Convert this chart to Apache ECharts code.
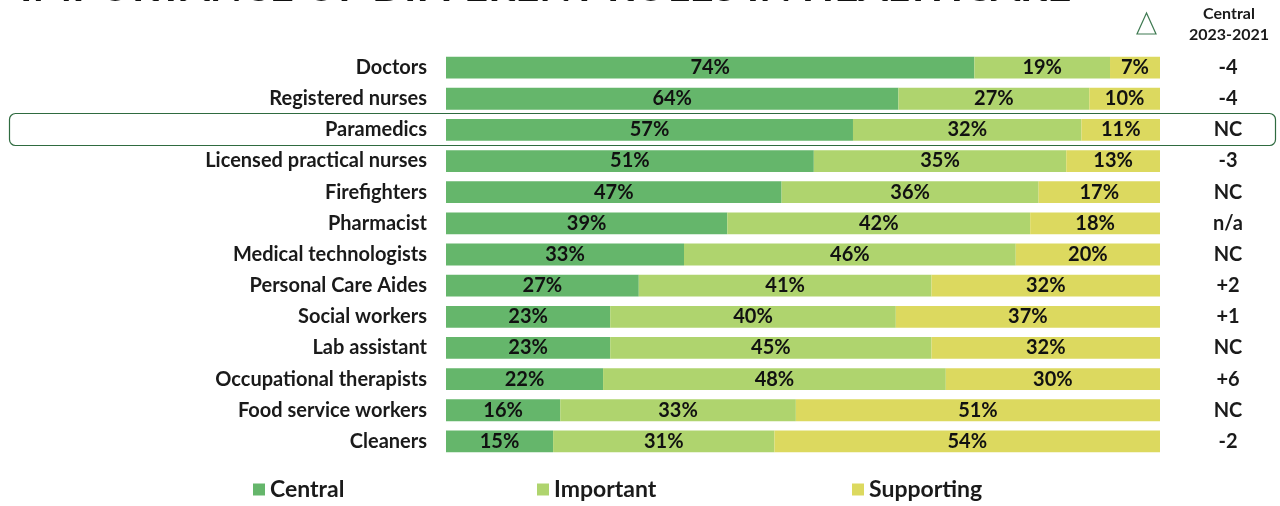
<!DOCTYPE html>
<html>
<head>
<meta charset="utf-8">
<title>Importance of different roles in healthcare</title>
<script src="https://cdn.jsdelivr.net/npm/echarts@6/dist/echarts.min.js"></script>
<style>
  html, body { margin: 0; padding: 0; background: #ffffff; }
  #chart { width: 1280px; height: 506px; }
</style>
</head>
<body>
<div id="chart"></div>
<script>
// roles, top to bottom
const roles = [
  'Doctors', 'Registered nurses', 'Paramedics', 'Licensed practical nurses',
  'Firefighters', 'Pharmacist', 'Medical technologists', 'Personal Care Aides',
  'Social workers', 'Lab assistant', 'Occupational therapists',
  'Food service workers', 'Cleaners'
]
const central = [74, 64, 57, 51, 47, 39, 33, 27, 23, 23, 22, 16, 15]
const important = [19, 27, 32, 35, 36, 42, 46, 41, 40, 45, 48, 33, 31]
const supporting = [7, 10, 11, 13, 17, 18, 20, 32, 37, 32, 30, 51, 54]
// change in "central" 2023 vs 2021
const centralChange = ['-4', '-4', 'NC', '-3', 'NC', 'n/a', 'NC', '+2', '+1', 'NC', '+6', 'NC', '-2']

const FONT = 'Lato, "DejaVu Sans", sans-serif'
const colors = { central: '#65b66b', important: '#afd46e', supporting: '#dcd95f' }

const chart = echarts.init(document.getElementById('chart'))

// bars fill the full row, so share is taken against the row total
const totals = roles.map((r, i) => central[i] + important[i] + supporting[i])
const share = (arr) => arr.map((v, i) => ({ value: v / totals[i] * 100, raw: v }))

const makeSeries = (name, arr, color) => ({
  name: name,
  type: 'bar',
  stack: 'total',
  barCategoryGap: '30%',
  data: share(arr),
  itemStyle: { color: color },
  label: {
    show: true,
    position: 'inside',
    formatter: p => p.data.raw + '%',
    color: '#111111',
    fontFamily: FONT,
    fontWeight: 'bold',
    fontSize: 20
  },
  emphasis: { disabled: true }
})

// one legend per item so each sits where the reference has it
const makeLegend = (name, left) => ({
  bottom: 0,
  left: left,
  itemWidth: 12,
  itemHeight: 12,
  icon: 'rect',
  selectedMode: false,
  textStyle: {
    color: '#1a1a1a',
    fontFamily: FONT,
    fontWeight: 'bold',
    fontSize: 23
  },
  data: [name]
})

chart.setOption({
  animation: false,
  backgroundColor: '#ffffff',
  grid: { left: 446, right: 120, top: 52, height: 405 },
  xAxis: {
    type: 'value',
    min: 0,
    max: 100,
    show: false
  },
  yAxis: [
    {
      type: 'category',
      inverse: true,
      data: roles,
      axisLine: { show: false },
      axisTick: { show: false },
      axisLabel: {
        margin: 19,
        color: '#1a1a1a',
        fontFamily: FONT,
        fontWeight: 'bold',
        fontSize: 20
      }
    },
    {
      type: 'category',
      inverse: true,
      position: 'right',
      data: centralChange,
      axisLine: { show: false },
      axisTick: { show: false },
      axisLabel: {
        margin: 68,
        align: 'center',
        color: '#1a1a1a',
        fontFamily: FONT,
        fontWeight: 'bold',
        fontSize: 20
      }
    }
  ],
  legend: [
    makeLegend('Central', 248),
    makeLegend('Important', 532),
    makeLegend('Supporting', 847)
  ],
  series: [
    makeSeries('Central', central, colors.central),
    makeSeries('Important', important, colors.important),
    makeSeries('Supporting', supporting, colors.supporting)
  ],
  graphic: [
    {
      // title, cut off at the top edge
      type: 'text',
      left: 20,
      top: -34,
      style: {
        text: 'IMPORTANCE OF DIFFERENT ROLES IN HEALTHCARE',
        fill: '#111111',
        font: 'bold 42px ' + FONT
      }
    },
    {
      type: 'polygon',
      shape: { points: [[1146.5, 13], [1137, 34], [1156, 34]] },
      style: { fill: 'none', stroke: '#3f7a52', lineWidth: 1.2 }
    },
    {
      type: 'text',
      x: 1229,
      y: 3,
      style: {
        text: 'Central\n2023-2021',
        align: 'center',
        fill: '#1a1a1a',
        font: 'bold 16px ' + FONT,
        lineHeight: 21
      }
    },
    {
      // highlight box round the Paramedics row
      type: 'rect',
      shape: { x: 9.5, y: 113.5, width: 1266, height: 32, r: 6 },
      style: { fill: 'none', stroke: '#2f6b40', lineWidth: 1.2 },
      z: 100
    }
  ]
})
</script>
</body>
</html>
